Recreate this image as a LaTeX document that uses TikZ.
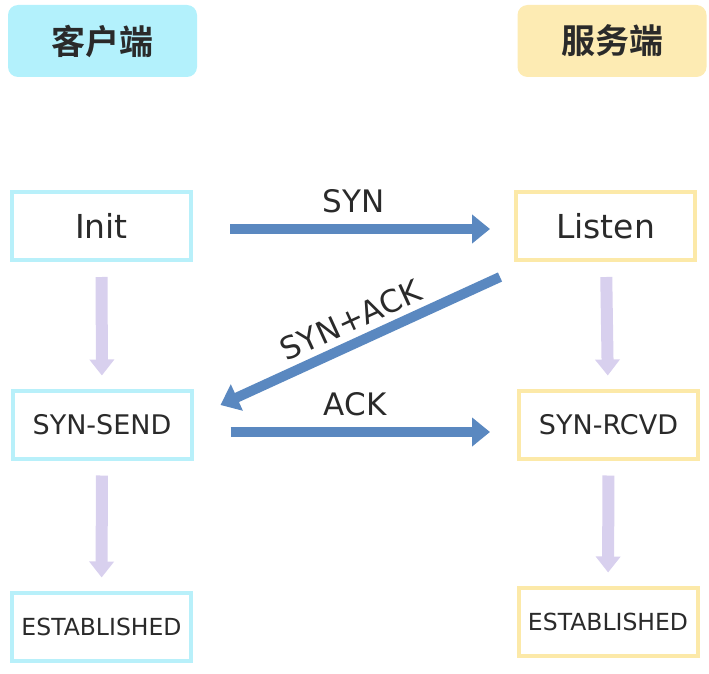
\documentclass[tikz,border=0pt]{standalone}
\usepackage{fontspec}
\setmainfont{DejaVu Sans}
\newfontfamily\cjk{Noto Sans CJK SC Bold}
\usepackage{xcolor}
\usepackage{tikz}
\usetikzlibrary{
  arrows.meta,
  positioning,
  calc
}
\definecolor{clientfill}{HTML}{B3F1FC}
\definecolor{clientedge}{HTML}{B8F0FA}
\definecolor{serverfill}{HTML}{FDEBB3}
\definecolor{serveredge}{HTML}{FCE9A8}
\definecolor{msgblue}{HTML}{5A88C0}
\definecolor{steplav}{HTML}{D8D0EE}
\definecolor{inkgray}{HTML}{2A2A2A}

\begin{document}
\begin{tikzpicture}[x=1pt,y=-1pt,
    header/.style={rounded corners=10pt,minimum width=189pt,minimum height=72pt,
      inner sep=0pt,text=inkgray,font=\cjk\fontsize{34}{34}\selectfont},
    statebox/.style={draw,line width=4pt,fill=white,minimum width=179pt,
      minimum height=68pt,inner sep=0pt,text=inkgray},
    msg/.style={msgblue,line width=10pt,-{Triangle[width=28pt,length=18pt]}},
    next/.style={steplav,line width=12pt,-{Triangle[width=24pt,length=16pt]},
      shorten <=15pt,shorten >=13pt},
    msglabel/.style={text=inkgray,font=\fontsize{31}{31}\selectfont}]
  \useasboundingbox (0,0) rectangle (709,674);
  % Headers
  \node[header,fill=clientfill] (client) at (102.5,41) {客户端};
  \node[header,fill=serverfill] (server) at (612,41) {服务端};
  % Client states
  \node[statebox,draw=clientedge,font=\fontsize{33}{33}\selectfont] (init) at (101.5,226) {Init};
  \node[statebox,draw=clientedge,font=\fontsize{27}{27}\selectfont] (synsend) at (102,424.5) {SYN-SEND};
  \node[statebox,draw=clientedge,font=\fontsize{23.5}{23.5}\selectfont] (cest) at (101.5,626.5) {ESTABLISHED};
  % Server states
  \node[statebox,draw=serveredge,font=\fontsize{33}{33}\selectfont] (listen) at (605.5,226) {Listen};
  \node[statebox,draw=serveredge,font=\fontsize{27}{27}\selectfont] (synrcvd) at (608.5,424.5) {SYN-RCVD};
  \node[statebox,draw=serveredge,font=\fontsize{23.5}{23.5}\selectfont] (sest) at (608,621.5) {ESTABLISHED};
  % State steps
  \draw[next] (init) -- (synsend);
  \draw[next] (synsend) -- (cest);
  \draw[next] (listen) -- (synrcvd);
  \draw[next] (synrcvd) -- (sest);
  % Handshake
  \draw[msg,shorten <=37pt,shorten >=24pt] (init.east |- 0,229) -- (listen.west |- 0,229)
    node[midway,above=8pt,msglabel] (synlabel) {SYN};
  \draw[msg] ([xshift=-14pt,yshift=-15pt]listen.south west) -- ([xshift=27pt,yshift=19.5pt]synsend.east)
    node[pos=0.5,above=3pt,sloped,msglabel] (synacklabel) {SYN+ACK};
  \draw[msg,shorten <=37pt,shorten >=27pt] (synsend.east |- 0,432) -- (synrcvd.west |- 0,432)
    node[midway,above=8pt,msglabel] (acklabel) {ACK};
\end{tikzpicture}
\end{document}
